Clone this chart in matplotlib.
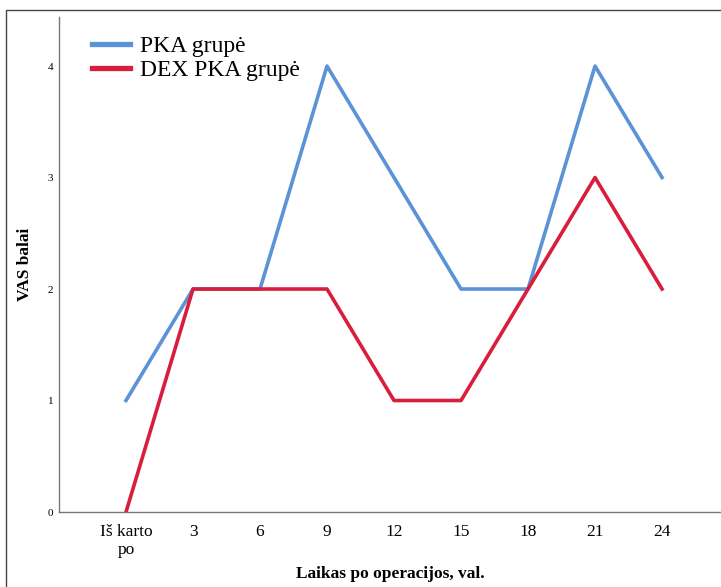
import matplotlib.pyplot as plt
from matplotlib.patches import Rectangle

# data
laikas = ["Iš karto\npo", "3", "6", "9", "12", "15", "18", "21", "24"]
pka = [1, 2, 2, 4, 3, 2, 2, 4, 3]
dex_pka = [0, 2, 2, 2, 1, 1, 2, 3, 2]

plt.rcParams['font.family'] = ['Liberation Serif', 'DejaVu Serif']

fig = plt.figure(figsize=(7.21, 5.87), dpi=100)
ax = fig.add_axes([59 / 721, 75 / 587, 662 / 721, 495 / 587])

x = list(range(1, len(laikas) + 1))
ax.plot(x, pka, color='#5b93d6', lw=2.6, label='PKA grupė')
ax.plot(x, dex_pka, color='#d81e3c', lw=2.6, label='DEX PKA grupė')

ax.set_xlim(0, 9.88)
ax.set_ylim(0, 4.44)
ax.set_xticks(x)
ax.set_xticklabels(laikas, fontsize=12.5, linespacing=1.1)
ax.set_yticks([0, 1, 2, 3, 4])
ax.set_yticklabels(['0', '1', '2', '3', '4'], fontsize=8)
ax.tick_params(axis='both', length=0)
ax.tick_params(axis='y', pad=4)
ax.tick_params(axis='x', pad=9)

for s in ['top', 'right']:
    ax.spines[s].set_visible(False)
for s in ['left', 'bottom']:
    ax.spines[s].set_color('#777777')
    ax.spines[s].set_linewidth(1.0)

ax.set_xlabel('Laikas po operacijos, val.', fontsize=12.5, fontweight='bold', va='center')
ax.xaxis.set_label_coords(0.5, -62 / 495)
ax.set_ylabel('VAS balai', fontsize=12.5, fontweight='bold')
ax.yaxis.set_label_coords(-26 / 662, 0.5)

leg = ax.legend(loc='upper left', bbox_to_anchor=(0.022, 1.0), frameon=False,
                fontsize=17, handlelength=1.6, handletextpad=0.4, labelspacing=0.1,
                borderaxespad=0.4)
for ln in leg.get_lines():
    ln.set_linewidth(3.8)

# outer frame
fig.add_artist(Rectangle((6 / 721, -0.1), 2, (577 / 587) + 0.1,
                         transform=fig.transFigure, fill=False,
                         edgecolor='#444444', lw=1.0))

fig.savefig('out.png', dpi=100)
